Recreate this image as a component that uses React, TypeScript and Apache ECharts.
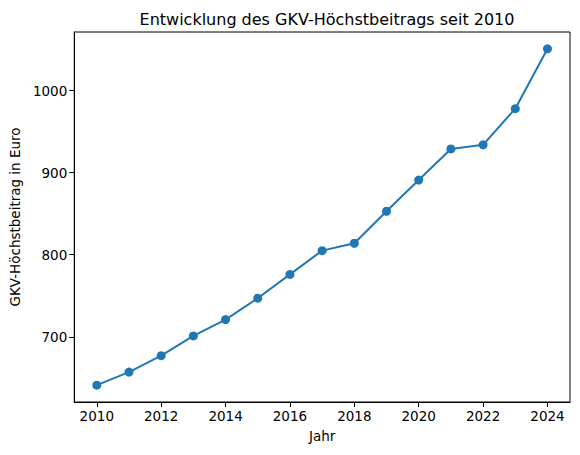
import { useEffect, useRef } from 'react';
import * as echarts from 'echarts';

const years = [2010, 2011, 2012, 2013, 2014, 2015, 2016, 2017, 2018, 2019, 2020, 2021, 2022, 2023, 2024];
const beitrag = [641, 657, 677, 701, 721, 747, 776, 805, 814, 853, 891, 929, 934, 978, 1051];
const xTicks = [2010, 2012, 2014, 2016, 2018, 2020, 2022, 2024];
const yTicks = [700, 800, 900, 1000];

const font = 'DejaVu Sans';

export default function App() {
  const chartRef = useRef<HTMLDivElement>(null);

  useEffect(() => {
    if (!chartRef.current) return;
    const chart = echarts.init(chartRef.current, undefined, { renderer: 'svg' });

    const option: echarts.EChartsOption = {
      animation: false,
      backgroundColor: '#fff',
      title: {
        text: 'Entwicklung des GKV-Höchstbeitrags seit 2010',
        left: 322,
        top: 6,
        textAlign: 'center',
        textStyle: { fontFamily: font, fontSize: 16, fontWeight: 'normal', color: '#000' },
      },
      grid: {
        left: 74,
        right: 10,
        top: 32,
        bottom: 53,
        show: true,
        borderColor: '#000',
        borderWidth: 1,
      },
      xAxis: {
        type: 'value',
        min: 2009.3,
        max: 2024.7,
        name: 'Jahr',
        nameLocation: 'middle',
        nameGap: 27,
        nameTextStyle: { fontFamily: font, fontSize: 13.5, color: '#000' },
        axisLine: { show: true, lineStyle: { color: '#000', width: 1 } },
        axisTick: { show: true, inside: false, length: 5, lineStyle: { color: '#000' }, customValues: xTicks },
        axisLabel: {
          fontFamily: font, fontSize: 13.5, color: '#000', margin: 7,
          customValues: xTicks, formatter: (v: number) => String(v),
        },
        splitLine: { show: false },
      },
      yAxis: {
        type: 'value',
        min: 620.5,
        max: 1071.5,
        name: 'GKV-Höchstbeitrag in Euro',
        nameLocation: 'middle',
        nameGap: 48,
        nameTextStyle: { fontFamily: font, fontSize: 13.5, color: '#000' },
        axisLine: { show: true, lineStyle: { color: '#000', width: 1 } },
        axisTick: { show: true, inside: false, length: 5, lineStyle: { color: '#000' }, customValues: yTicks },
        axisLabel: {
          fontFamily: font, fontSize: 13.5, color: '#000', margin: 7,
          customValues: yTicks, formatter: (v: number) => String(v),
        },
        splitLine: { show: false },
      },
      series: [
        {
          type: 'line',
          data: years.map((y, i) => [y, beitrag[i]]),
          symbol: 'circle',
          symbolSize: 9,
          lineStyle: { color: '#1f77b4', width: 2 },
          itemStyle: { color: '#1f77b4' },
        },
      ],
    };

    chart.setOption(option);
    return () => chart.dispose();
  }, []);

  return (
    <div
      ref={chartRef}
      style={{ position: 'fixed', left: 0, top: 0, width: 580, height: 455 }}
    />
  );
}
